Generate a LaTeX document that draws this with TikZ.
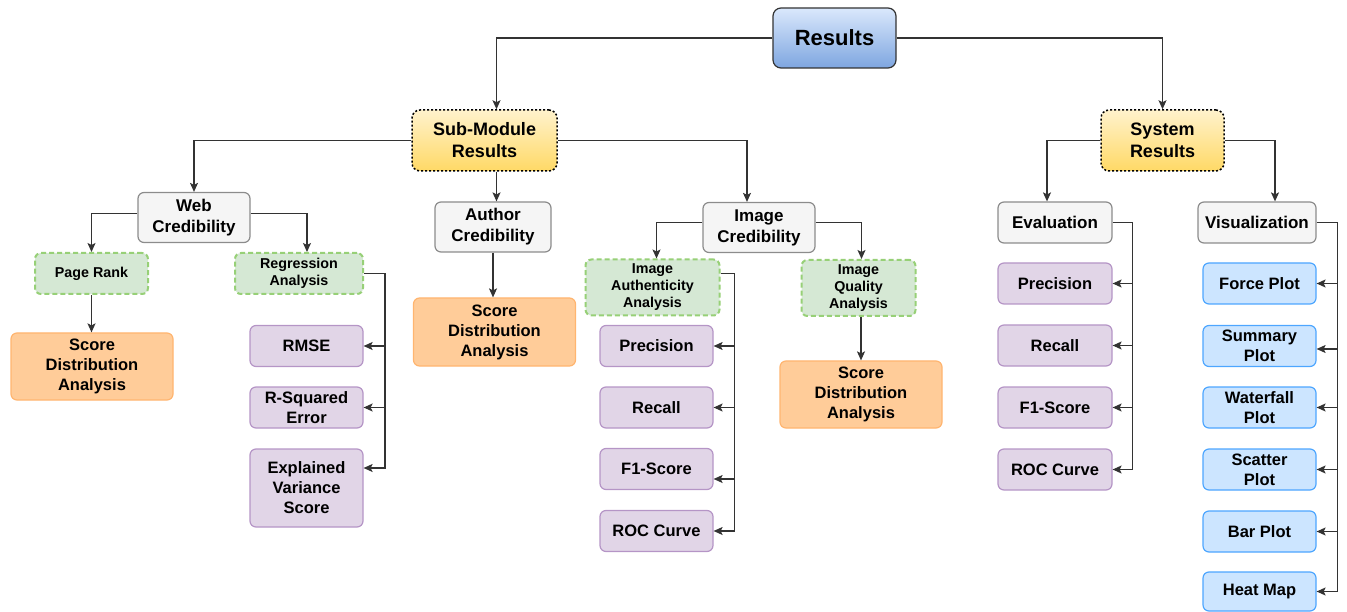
\documentclass[tikz,border=0pt]{standalone}
\usepackage{fontspec}
\setmainfont{Liberation Sans}
\usepackage{tikz}
\usetikzlibrary{arrows.meta, positioning}
\definecolor{linegray}{HTML}{333333}
\definecolor{roottop}{HTML}{DAE8FC}
\definecolor{rootbot}{HTML}{7EA6E0}
\definecolor{yeltop}{HTML}{FFF2CC}
\definecolor{yelbot}{HTML}{FFD966}
\definecolor{catfill}{HTML}{F5F5F5}
\definecolor{catdraw}{HTML}{8C8C8C}
\definecolor{greenfill}{HTML}{D5E8D4}
\definecolor{greendraw}{HTML}{97D077}
\definecolor{orangefill}{HTML}{FFCC99}
\definecolor{orangedraw}{HTML}{FFB570}
\definecolor{purplefill}{HTML}{E1D5E7}
\definecolor{purpledraw}{HTML}{B595C6}
\definecolor{bluefill}{HTML}{CCE5FF}
\definecolor{bluedraw}{HTML}{4DA6FF}

\begin{document}
\begin{tikzpicture}[x=1pt,y=-1pt,
base/.style={rounded corners=6pt,align=center,inner sep=2pt,line width=1.2pt,text=black},
rootbox/.style={base,rounded corners=8pt,draw=linegray,top color=roottop,bottom color=rootbot,minimum width=123pt,minimum height=60pt,font=\fontsize{22}{26}\selectfont\bfseries},
groupbox/.style={base,rounded corners=8pt,draw=black,line width=1.5pt,dash pattern=on 2pt off 2pt,top color=yeltop,bottom color=yelbot,minimum height=61pt,font=\fontsize{18}{22}\selectfont\bfseries},
catbox/.style={base,draw=catdraw,fill=catfill,minimum height=50pt,font=\fontsize{17}{21}\selectfont\bfseries},
methodbox/.style={base,draw=greendraw,fill=greenfill,line width=2pt,dash pattern=on 5pt off 3pt,font=\fontsize{14.3}{17}\selectfont\bfseries},
scorebox/.style={base,draw=orangedraw,fill=orangefill,minimum width=162pt,minimum height=67pt,font=\fontsize{16.5}{20}\selectfont\bfseries},
metricbox/.style={base,draw=purpledraw,fill=purplefill,minimum width=113pt,minimum height=41pt,font=\fontsize{16.5}{20}\selectfont\bfseries},
plotbox/.style={base,draw=bluedraw,fill=bluefill,minimum width=113pt,minimum height=41pt,font=\fontsize{16.5}{20}\selectfont\bfseries},
arrow/.style={draw=linegray,line width=1.2pt,-{Stealth[length=9pt,width=8pt,inset=2pt]}}]
\useasboundingbox (0,0) rectangle (1347,612);
% top levels
\node[rootbox] (res) at (834.5,38){Results};
\node[groupbox,minimum width=145pt] (sub) at (484.5,140.5){Sub-Module\\Results};
\node[groupbox,minimum width=123pt] (sys) at (1162.5,140.5){System\\Results};
\node[catbox,minimum width=112pt] (web) at (194,217.5){Web\\Credibility};
\node[catbox,minimum width=116pt] (auth) at (493,227){Author\\Credibility};
\node[catbox,minimum width=112pt] (imgc) at (759,227.5){Image\\Credibility};
\node[catbox,minimum width=114pt,minimum height=41pt] (eval) at (1055,222.5){Evaluation};
\node[catbox,minimum width=118pt,minimum height=41pt] (vis) at (1257,222.5){Visualization};
% web credibility branch
\node[methodbox,minimum width=113pt,minimum height=41pt] (pr) at (91.5,273.5){Page Rank};
\node[methodbox,minimum width=128pt,minimum height=41pt] (reg) at (299,273.5){Regression\\Analysis};
\node[scorebox] (sd1) at (92,366.5){Score\\Distribution\\Analysis};
\node[metricbox] (rmse) at (306.5,346){RMSE};
\node[metricbox] (rsq) at (306.5,407.5){R-Squared\\Error};
\node[metricbox,minimum height=78pt] (expl) at (306.5,488){Explained\\Variance\\Score};
% author credibility branch
\node[scorebox,minimum height=68pt] (sd2) at (494.5,332){Score\\Distribution\\Analysis};
% image credibility branch
\node[methodbox,minimum width=134pt,minimum height=56pt] (ia) at (652.5,287.5){Image\\Authenticity\\Analysis};
\node[methodbox,minimum width=114pt,minimum height=56pt] (iq) at (858.5,288){Image\\Quality\\Analysis};
\node[scorebox] (sd3) at (861,394.5){Score\\Distribution\\Analysis};
\node[metricbox] (iaprec) at (656.5,346){Precision};
\node[metricbox] (iarec) at (656.5,407.5){Recall};
\node[metricbox] (iaf1) at (656.5,469){F1-Score};
\node[metricbox] (iaroc) at (656.5,531){ROC Curve};
% system results
\node[metricbox,minimum width=114pt] (evprec) at (1055,283.5){Precision};
\node[metricbox,minimum width=114pt] (evrec) at (1055,345.5){Recall};
\node[metricbox,minimum width=114pt] (evf1) at (1055,407.5){F1-Score};
\node[metricbox,minimum width=114pt] (evroc) at (1055,469.5){ROC Curve};
\node[plotbox] (force) at (1259.5,283.5){Force Plot};
\node[plotbox] (summ) at (1259.5,346){Summary\\Plot};
\node[plotbox] (water) at (1259.5,407.5){Waterfall\\Plot};
\node[plotbox] (scat) at (1259.5,469.5){Scatter\\Plot};
\node[plotbox] (bar) at (1259.5,531.5){Bar Plot};
\node[plotbox,minimum height=39pt] (heat) at (1259.5,591.5){Heat Map};
% bus points
\coordinate (regbus) at ([xshift=21pt]reg.east);
\coordinate (iabus) at ([xshift=14pt,yshift=14pt]ia.east);
\coordinate (evbus) at ([xshift=20pt]eval.east);
\coordinate (visbus) at ([xshift=21pt]vis.east);
% connectors
\draw[arrow] (res.west) -| ([xshift=12pt]sub.north);
\draw[arrow] (res.east) -| (sys.north);
\draw[arrow] (sub.west) -| (web.north);
\draw[arrow] ([xshift=12pt]sub.south) -- ([xshift=12pt]sub.south |- auth.north);
\draw[arrow] (sub.east) -| ([xshift=-12pt]imgc.north);
\draw[arrow] ([yshift=4pt]web.west) -| (pr.north);
\draw[arrow] ([yshift=4pt]web.east) -| ([xshift=8pt]reg.north);
\draw[arrow] (pr.south) -- (pr.south |- sd1.north);
\draw[arrow] (reg.east) -- (regbus) |- (rmse.east);
\draw[arrow] (regbus) |- (rsq.east);
\draw[arrow] (regbus) |- ([yshift=20pt]expl.east);
\draw[arrow] (auth.south) -- (auth.south |- sd2.north);
\draw[arrow] ([yshift=5pt]imgc.west) -| ([xshift=4pt]ia.north);
\draw[arrow] ([yshift=5pt]imgc.east) -| ([xshift=3pt]iq.north);
\draw[arrow] (sd3.north |- iq.south) -- (sd3.north);
\draw[arrow] ([yshift=14pt]ia.east) -- (iabus) |- (iaprec.east);
\draw[arrow] (iabus) |- (iarec.east);
\draw[arrow] (iabus) |- ([yshift=-10pt]iaf1.east);
\draw[arrow] (iabus) |- (iaroc.east);
\draw[arrow] (sys.west) -| ([xshift=-8pt]eval.north);
\draw[arrow] (sys.east) -| ([xshift=18pt]vis.north);
\draw[arrow] (eval.east) -- (evbus) |- (evprec.east);
\draw[arrow] (evbus) |- (evrec.east);
\draw[arrow] (evbus) |- (evf1.east);
\draw[arrow] (evbus) |- (evroc.east);
\draw[arrow] (vis.east) -- (visbus) |- (force.east);
\draw[arrow] (visbus) |- ([yshift=-3pt]summ.east);
\draw[arrow] (visbus) |- (water.east);
\draw[arrow] (visbus) |- (scat.east);
\draw[arrow] (visbus) |- (bar.east);
\draw[arrow] (visbus) |- (heat.east);
\end{tikzpicture}
\end{document}
